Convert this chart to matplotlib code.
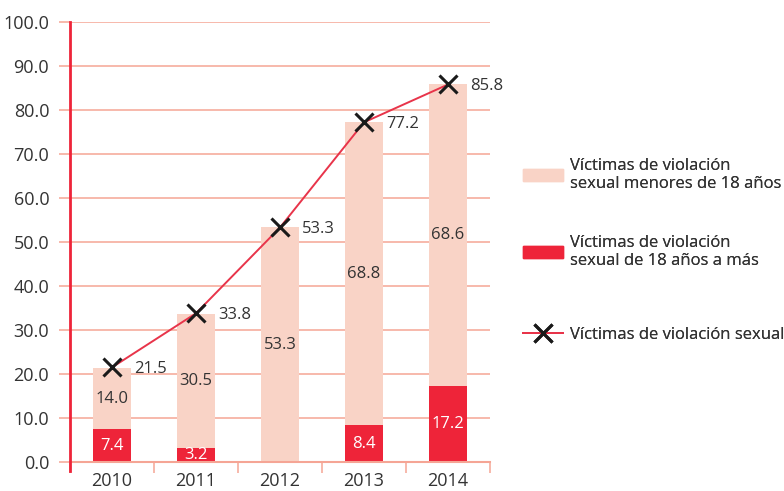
import matplotlib.pyplot as plt
import matplotlib.patches as patches
from matplotlib.lines import Line2D
import numpy as np

plt.rcParams['font.family'] = ['Open Sans', 'DejaVu Sans']

# data
years = ['2010', '2011', '2012', '2013', '2014']
adultas = [7.4, 3.2, 0.0, 8.4, 17.2]
menores = [14.0, 30.5, 53.3, 68.8, 68.6]
totales = [21.5, 33.8, 53.3, 77.2, 85.8]

c_dark = '#ee2439'
c_light = '#f9d3c6'
c_grid = '#f5a595'
c_text = '#333333'

fig = plt.figure(figsize=(7.84, 4.91), dpi=100)
ax = fig.add_axes([70/784, 29/491, 420/784, 440/491])

x = np.arange(len(years))
w = 0.45
ax.bar(x, adultas, w, color=c_dark, zorder=2)
ax.bar(x, menores, w, bottom=adultas, color=c_light, zorder=2)
ax.plot(x, totales, color='#e8344a', lw=1.4, marker='x', ms=13, mew=2.2,
        mec='#1a1a1a', zorder=4)

# labels
for i in range(len(years)):
    if adultas[i] > 0:
        ax.text(x[i], adultas[i] / 2, f'{adultas[i]:.1f}', ha='center', va='center',
                color='white', fontsize=12, zorder=5)
    ax.text(x[i], adultas[i] + menores[i] / 2, f'{menores[i]:.1f}', ha='center',
            va='center', color=c_text, fontsize=12, zorder=5)
    ax.annotate(f'{totales[i]:.1f}', (x[i], totales[i]), xytext=(16, -1),
                textcoords='offset points', ha='left', va='center',
                color=c_text, fontsize=12, zorder=5)

ax.set_xlim(-0.5, len(years) - 0.5)
ax.set_ylim(0, 100)
ax.set_yticks(np.arange(0, 101, 10))
ax.set_yticklabels([f'{v:.1f}' for v in np.arange(0, 101, 10)])
ax.yaxis.grid(True, color=c_grid, lw=1.1, zorder=0)
ax.set_axisbelow(True)
ax.tick_params(axis='y', length=8, width=1.1, color=c_grid, labelsize=13,
               labelcolor=c_text, pad=7)

ax.set_xticks(x)
ax.set_xticklabels(years)
ax.set_xticks(np.arange(-0.5, len(years)), minor=True)
ax.tick_params(axis='x', which='major', length=0, labelsize=13,
               labelcolor=c_text, pad=7)
ax.tick_params(axis='x', which='minor', length=8, width=1.1, color=c_grid)

for s in ['top', 'right']:
    ax.spines[s].set_visible(False)
ax.spines['bottom'].set_color(c_grid)
ax.spines['bottom'].set_linewidth(1.5)
ax.spines['left'].set_visible(False)
ax.add_line(Line2D([0, 0], [-0.02, 1.0], transform=ax.transAxes, color=c_dark,
                   lw=2, clip_on=False, zorder=6))

# legend
h1 = patches.Patch(color=c_light)
h2 = patches.Patch(color=c_dark)
h3 = Line2D([], [], color='#e8344a', lw=1.4, marker='x', ms=13, mew=2.2,
            mec='#1a1a1a')
entries = [
    (h1, 'Víctimas de violación\nsexual menores de 18 años', 175),
    (h2, 'Víctimas de violación\nsexual de 18 años a más', 252),
    (h3, 'Víctimas de violación sexual', 335),
]
for h, lab, yp in entries:
    leg = fig.legend([h], [lab], loc='center left',
                     bbox_to_anchor=(508/784, 1 - yp/491), frameon=False,
                     fontsize=12, handlelength=2.4, handleheight=0.7,
                     handletextpad=0.4, labelcolor=c_text)
    fig.add_artist(leg)

fig.savefig('out.png', dpi=100)
